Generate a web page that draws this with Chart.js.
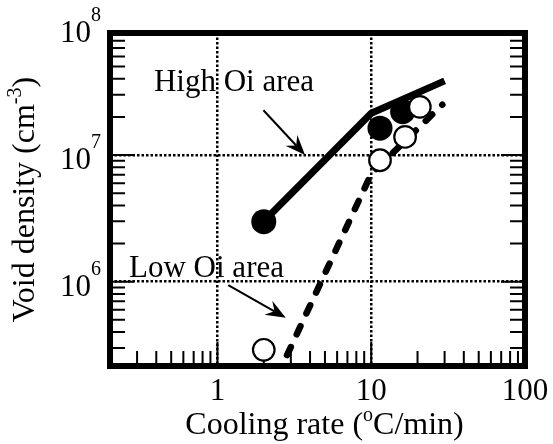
<!DOCTYPE html>
<html>
<head>
<meta charset="utf-8">
<script src="https://cdn.jsdelivr.net/npm/chart.js@4.4.1/dist/chart.umd.min.js"></script>
<style>
  html, body { margin: 0; padding: 0; background: #fff; }
  #wrap { width: 553px; height: 444px; position: relative; }
</style>
</head>
<body>
<div id="wrap"><canvas id="voidChart"></canvas></div>
<script>
// ===== values =====
// trend lines
const highOiX = [2, 10, 30];
const highOiY = [3.0e6, 2.14e7, 3.85e7];
const lowOiX = [2.45, 10, 29];
const lowOiY = [1.8e5, 7.1e6, 2.5e7];

// measured points
const filledX = [2, 11.4, 16];
const filledY = [2.98e6, 1.63e7, 2.2e7];
const openX = [2, 11.4, 16.6, 20.7];
const openY = [2.9e5, 9.1e6, 1.39e7, 2.4e7];

// axes
const xMin = 0.2, xMax = 100;
const yMin = 2.16e5, yMax = 9.2e7;
const xTickValues = [1, 10, 100];
const xTickLabels = ['1', '10', '100'];
const yTickValues = [1e6, 1e7, 1e8];
const yTickExps = ['6', '7', '8'];

// callouts (data coordinates)
const calloutText = ['High Oi area', 'Low Oi area'];
const calloutX = [0.386, 0.266];
const calloutY = [3.2e7, 1.09e6];
const arrowFromX = [1.99, 1.175], arrowFromY = [2.26e7, 9.4e5];
const arrowToX = [3.71, 2.78], arrowToY = [1.0e7, 5.2e5];

const pairs = (xs, ys) => xs.map((x, i) => ({ x, y: ys[i] }));

const FONT_MAIN = '31px "Liberation Serif"';
const FONT_TITLE = '32px "Liberation Serif"';
const FONT_SUP = '20px "Liberation Serif"';

// text with superscript parts; align 'left' | 'center' | 'right'
function drawRich(ctx, parts, x, y, align, baseFont, raise) {
  const widths = parts.map(p => { ctx.font = p.sup ? FONT_SUP : baseFont; return ctx.measureText(p.t).width; });
  const total = widths.reduce((a, b) => a + b, 0);
  let cx = align === 'center' ? x - total / 2 : align === 'right' ? x - total : x;
  ctx.textAlign = 'left';
  ctx.textBaseline = 'alphabetic';
  parts.forEach((p, i) => {
    ctx.font = p.sup ? FONT_SUP : baseFont;
    ctx.fillText(p.t, cx, p.sup ? y - raise : y);
    cx += widths[i];
  });
}

function drawArrow(ctx, x0, y0, x1, y1) {
  const dx = x1 - x0, dy = y1 - y0, len = Math.hypot(dx, dy);
  const ux = dx / len, uy = dy / len;
  const headLen = 20, halfW = 8, notch = 13;
  ctx.lineWidth = 2;
  ctx.beginPath();
  ctx.moveTo(x0, y0);
  ctx.lineTo(x1 - ux * notch, y1 - uy * notch);
  ctx.stroke();
  ctx.beginPath();
  ctx.moveTo(x1, y1);
  ctx.lineTo(x1 - ux * headLen - uy * halfW, y1 - uy * headLen + ux * halfW);
  ctx.lineTo(x1 - ux * notch, y1 - uy * notch);
  ctx.lineTo(x1 - ux * headLen + uy * halfW, y1 - uy * headLen - ux * halfW);
  ctx.closePath();
  ctx.fill();
}

function logSteps(min, max) {
  const out = [];
  for (let e = Math.floor(Math.log10(min)); e <= Math.ceil(Math.log10(max)); e++) {
    for (let m = 1; m <= 9; m++) {
      const v = m * Math.pow(10, e);
      if (v > min * 1.0001 && v < max * 0.9999) out.push({ v, major: m === 1 });
    }
  }
  return out;
}

const isDecade = v => Math.abs(Math.log10(v) - Math.round(Math.log10(v))) < 1e-6;

// ===== frame, inward ticks, labels, callouts =====
const figureDecor = {
  id: 'figureDecor',
  beforeDatasetsDraw(chart) {
    const { ctx, chartArea: a, scales: { x, y } } = chart;
    ctx.save();
    ctx.strokeStyle = '#000';
    ctx.lineWidth = 2;
    ctx.beginPath();
    logSteps(xMin, xMax).forEach(t => {
      const px = x.getPixelForValue(t.v);
      ctx.moveTo(px, a.bottom);
      ctx.lineTo(px, a.bottom - (t.major ? 24 : 15));
    });
    logSteps(yMin, yMax).forEach(t => {
      const py = y.getPixelForValue(t.v);
      const l = t.major ? 24 : 15;
      ctx.moveTo(a.left, py); ctx.lineTo(a.left + l, py);
      ctx.moveTo(a.right, py); ctx.lineTo(a.right - l, py);
    });
    ctx.stroke();
    ctx.restore();
  },
  afterDatasetsDraw(chart) {
    const { ctx, chartArea: a, scales: { x, y } } = chart;
    ctx.save();
    ctx.fillStyle = '#000';
    ctx.strokeStyle = '#000';

    // plot frame
    ctx.lineWidth = 6;
    ctx.strokeRect(a.left, a.top, a.right - a.left, a.bottom - a.top);

    // callouts
    calloutText.forEach((t, i) => {
      ctx.font = FONT_MAIN;
      ctx.textAlign = 'left';
      ctx.textBaseline = 'alphabetic';
      ctx.fillText(t, x.getPixelForValue(calloutX[i]), y.getPixelForValue(calloutY[i]));
    });
    arrowFromX.forEach((_, i) => {
      drawArrow(ctx,
        x.getPixelForValue(arrowFromX[i]), y.getPixelForValue(arrowFromY[i]),
        x.getPixelForValue(arrowToX[i]), y.getPixelForValue(arrowToY[i]));
    });

    // x tick labels
    xTickValues.forEach((v, i) => {
      drawRich(ctx, [{ t: xTickLabels[i] }], x.getPixelForValue(v), a.bottom + 33.5, 'center', FONT_MAIN, 0);
    });
    // y tick labels 10^n
    yTickValues.forEach((v, i) => {
      const py = y.getPixelForValue(v);
      drawRich(ctx, [{ t: '10' }, { t: yTickExps[i], sup: true }], a.left - 9, py + 14, 'right', FONT_MAIN, 21);
    });

    // axis titles
    drawRich(ctx, [{ t: 'Cooling rate (' }, { t: 'o', sup: true }, { t: 'C/min)' }],
      (a.left + a.right) / 2 + 7, 434, 'center', FONT_TITLE, 13);
    ctx.translate(34, (a.top + a.bottom) / 2);
    ctx.rotate(-Math.PI / 2);
    drawRich(ctx, [{ t: 'Void density (cm' }, { t: '-3', sup: true }, { t: ')' }],
      0, 0, 'center', FONT_TITLE, 13);
    ctx.restore();
  }
};

const gridColor = lim => c => (c.tick && isDecade(c.tick.value) && c.tick.value > lim[0] && c.tick.value < lim[1]) ? '#000' : 'rgba(0,0,0,0)';

new Chart(document.getElementById('voidChart'), {
  type: 'scatter',
  data: {
    datasets: [
      { label: 'Low Oi area', data: pairs(openX, openY), pointRadius: 10.8, pointBackgroundColor: '#fff',
        pointBorderColor: '#000', pointBorderWidth: 2.2, order: 0 },
      { label: 'High Oi area', data: pairs(filledX, filledY), pointRadius: 12.5, pointBackgroundColor: '#000',
        pointBorderColor: '#000', pointBorderWidth: 0, order: 1 },
      { label: 'High Oi trend', data: pairs(highOiX, highOiY), showLine: true, borderColor: '#000',
        borderWidth: 7, pointRadius: 0, order: 2 },
      { label: 'Low Oi trend', data: pairs(lowOiX, lowOiY), showLine: true, borderColor: '#000',
        borderWidth: 6.5, borderDash: [9, 14], borderCapStyle: 'round', pointRadius: 0, clip: 0, order: 3 }
    ]
  },
  options: {
    responsive: true,
    maintainAspectRatio: false,
    animation: false,
    layout: { padding: { left: 110, right: 28, top: 33, bottom: 78 } },
    plugins: { legend: { display: false }, tooltip: { enabled: false } },
    scales: {
      x: {
        type: 'logarithmic', min: xMin, max: xMax,
        ticks: { display: false },
        grid: { drawTicks: false, lineWidth: 2.5, color: gridColor([xMin, xMax]) },
        border: { display: false, dash: [2.5, 2] }
      },
      y: {
        type: 'logarithmic', min: yMin, max: yMax,
        ticks: { display: false },
        grid: { drawTicks: false, lineWidth: 2.5, color: gridColor([yMin, yMax]) },
        border: { display: false, dash: [2.5, 2] }
      }
    }
  },
  plugins: [figureDecor]
});
</script>
</body>
</html>
